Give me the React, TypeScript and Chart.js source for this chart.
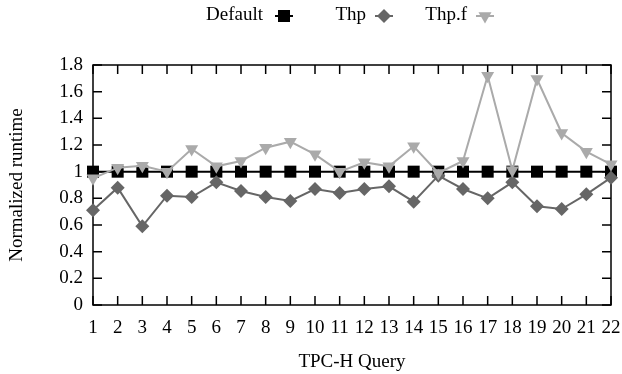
import React, { useEffect, useRef } from 'react';
import { Chart, registerables } from 'chart.js';

Chart.register(...registerables);

const queries = ['1', '2', '3', '4', '5', '6', '7', '8', '9', '10', '11', '12', '13', '14', '15', '16', '17', '18', '19', '20', '21', '22'];
const seriesNames = ['Default', 'Thp', 'Thp.f'];
const defaultRuntime = [1, 1, 1, 1, 1, 1, 1, 1, 1, 1, 1, 1, 1, 1, 1, 1, 1, 1, 1, 1, 1, 1];
const thpRuntime = [0.71, 0.88, 0.59, 0.82, 0.81, 0.92, 0.855, 0.81, 0.78, 0.87, 0.84, 0.87, 0.89, 0.775, 0.97, 0.87, 0.8, 0.92, 0.74, 0.72, 0.83, 0.955];
const thpfRuntime = [0.95, 1.03, 1.045, 1.0, 1.17, 1.04, 1.08, 1.18, 1.225, 1.13, 1.0, 1.07, 1.04, 1.19, 0.99, 1.08, 1.72, 1.01, 1.695, 1.29, 1.15, 1.055];
const yMin = 0;
const yMax = 1.8;
const yStep = 0.2;
const xTitle = 'TPC-H Query';
const yTitle = 'Normalized runtime';

const FONT = "'Liberation Serif', 'Times New Roman', serif";
const FS = 19;
const W = 622;
const H = 374;

function drawMarker(ctx: CanvasRenderingContext2D, style: string, r: number, x: number, y: number, color: string) {
  ctx.save();
  ctx.fillStyle = color;
  ctx.beginPath();
  if (style === 'rect') {
    const s = r * Math.SQRT1_2;
    ctx.rect(x - s, y - s, 2 * s, 2 * s);
  } else if (style === 'rectRot') {
    ctx.moveTo(x, y - r);
    ctx.lineTo(x + r, y);
    ctx.lineTo(x, y + r);
    ctx.lineTo(x - r, y);
    ctx.closePath();
  } else {
    const a = Math.PI;
    for (let i = 0; i < 3; i++) {
      const t = a + (i * 2 * Math.PI) / 3;
      const px = x + Math.sin(t) * r;
      const py = y - Math.cos(t) * r;
      if (i === 0) ctx.moveTo(px, py);
      else ctx.lineTo(px, py);
    }
    ctx.closePath();
  }
  ctx.fill();
  ctx.restore();
}

const frameAndLegend = {
  id: 'frameAndLegend',
  beforeDatasetsDraw(chart: any) {
    const { ctx, chartArea } = chart;
    const { left, right, top, bottom } = chartArea;
    const xs = chart.scales.x;
    const ys = chart.scales.y;
    const tl = 9;
    ctx.save();
    ctx.strokeStyle = '#000';
    ctx.lineWidth = 1.5;
    ctx.beginPath();
    xs.ticks.forEach((_t: any, i: number) => {
      const px = xs.getPixelForTick(i);
      ctx.moveTo(px, bottom);
      ctx.lineTo(px, bottom - tl);
      ctx.moveTo(px, top);
      ctx.lineTo(px, top + tl);
    });
    ys.ticks.forEach((_t: any, i: number) => {
      const py = ys.getPixelForTick(i);
      ctx.moveTo(left, py);
      ctx.lineTo(left + tl, py);
      ctx.moveTo(right, py);
      ctx.lineTo(right - tl, py);
    });
    ctx.stroke();
    ctx.strokeRect(left, top, right - left, bottom - top);
    ctx.restore();
  },
  afterDraw(chart: any) {
    const { ctx } = chart;
    const textRights = [263, 366, 467];
    const markerXs = [284, 384, 485];
    const y = 15;
    ctx.save();
    ctx.font = `${FS}px ${FONT}`;
    ctx.textAlign = 'right';
    ctx.textBaseline = 'middle';
    ctx.fillStyle = '#000';
    chart.data.datasets.forEach((ds: any, i: number) => {
      ctx.fillText(ds.label, textRights[i], y);
      const mx = markerXs[i];
      ctx.strokeStyle = ds.borderColor;
      ctx.lineWidth = 2;
      ctx.beginPath();
      ctx.moveTo(mx - 9, y + 1);
      ctx.lineTo(mx + 9, y + 1);
      ctx.stroke();
      drawMarker(ctx, ds.pointStyle, ds.pointRadius, mx, y + 1, ds.pointBackgroundColor);
    });
    ctx.restore();
  },
};

export default function App() {
  const ref = useRef<HTMLCanvasElement | null>(null);
  useEffect(() => {
    if (!ref.current) return;
    Chart.defaults.font.family = FONT;
    Chart.defaults.font.size = FS;
    Chart.defaults.color = '#000';
    const chart = new Chart(ref.current, {
      type: 'line',
      data: {
        labels: queries,
        datasets: [
          {
            label: seriesNames[0],
            data: defaultRuntime,
            borderColor: '#000000',
            backgroundColor: '#000000',
            pointBackgroundColor: '#000000',
            borderWidth: 2,
            pointStyle: 'rect',
            pointRadius: 8.5,
            pointBorderWidth: 0,
            order: 2,
            clip: false,
          } as any,
          {
            label: seriesNames[1],
            data: thpRuntime,
            borderColor: '#666666',
            backgroundColor: '#666666',
            pointBackgroundColor: '#666666',
            borderWidth: 2,
            pointStyle: 'rectRot',
            pointRadius: 7,
            pointBorderWidth: 0,
            order: 1,
            clip: false,
          } as any,
          {
            label: seriesNames[2],
            data: thpfRuntime,
            borderColor: '#aaaaaa',
            backgroundColor: '#aaaaaa',
            pointBackgroundColor: '#aaaaaa',
            borderWidth: 2,
            pointStyle: 'triangle',
            pointRotation: 180,
            pointRadius: 7.5,
            pointBorderWidth: 0,
            order: 0,
            clip: false,
          } as any,
        ],
      },
      options: {
        animation: false,
        responsive: false,
        maintainAspectRatio: false,
        layout: { padding: { top: 65, right: 11, left: 0, bottom: 0 } },
        plugins: {
          legend: { display: false },
          tooltip: { enabled: false },
        },
        scales: {
          x: {
            type: 'category',
            offset: false,
            grid: { display: false, drawTicks: false },
            border: { display: false },
            ticks: { autoSkip: false, maxRotation: 0, minRotation: 0, padding: 12, color: '#000' },
            title: {
              display: true,
              text: xTitle,
              color: '#000',
              font: { size: FS, family: FONT, lineHeight: 1 },
              padding: { top: 0, bottom: 2 },
            },
            afterFit(scale: any) {
              scale.height = 69;
              scale.paddingLeft = 0;
              scale.paddingRight = 0;
            },
          },
          y: {
            min: yMin,
            max: yMax,
            grid: { display: false, drawTicks: false },
            border: { display: false },
            ticks: {
              stepSize: yStep,
              padding: 10,
              color: '#000',
              callback: (v: any) => String(Number(Number(v).toFixed(1))),
            },
            title: {
              display: true,
              text: yTitle,
              color: '#000',
              font: { size: FS, family: FONT, lineHeight: 1 },
              padding: { top: 8, bottom: 0 },
            },
            afterFit(scale: any) {
              scale.width = 93;
            },
          },
        },
      },
      plugins: [frameAndLegend],
    });
    return () => chart.destroy();
  }, []);
  return (
    <div style={{ position: 'absolute', left: 0, top: 0, width: W, height: H, overflow: 'hidden' }}>
      <canvas ref={ref} width={W} height={H} style={{ display: 'block', width: W, height: H }} />
    </div>
  );
}
